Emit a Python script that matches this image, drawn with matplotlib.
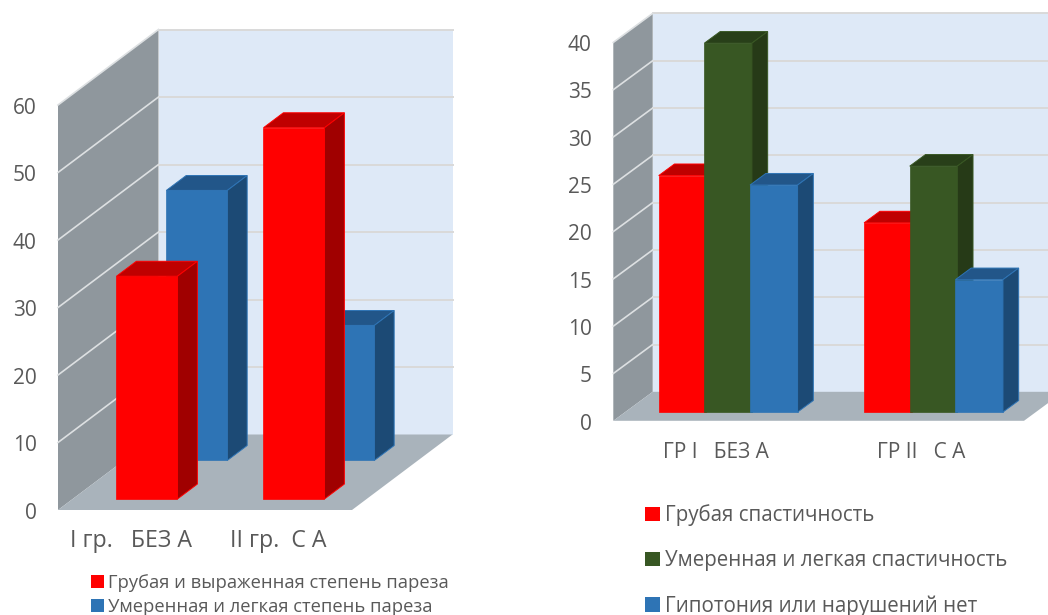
import matplotlib
matplotlib.use("Agg")
import matplotlib.pyplot as plt
from matplotlib.patches import Polygon, Patch
from matplotlib.transforms import ScaledTranslation

plt.rcParams['font.family'] = ['Open Sans', 'DejaVu Sans']

# Paresis severity by group
paresis_groups = ["I гр.   БЕЗ А", "II гр.  С А"]
paresis_names = ["Грубая и выраженная степень пареза", "Умеренная и легкая степень пареза"]
paresis_severe = [33, 55]
paresis_mild = [40, 20]
paresis_ticks = [0, 10, 20, 30, 40, 50, 60]

# Spasticity by group
spastic_groups = ["ГР I   БЕЗ А", "ГР II   С А"]
spastic_names = ["Грубая спастичность", "Умеренная и легкая спастичность", "Гипотония или нарушений нет"]
spastic_severe = [25, 20]
spastic_mild = [39, 26]
spastic_none = [24, 14]
spastic_ticks = [0, 5, 10, 15, 20, 25, 30, 35, 40]

W, H = 1048, 615
TEXT = "#595959"
WALL = "#8F979D"
BACK = "#DEE9F7"
FLOOR = "#A9B3BB"
GRID = "#D9D9D9"
SIDE_GRID = "#DDE0E2"
RED = ("#FF0000", "#BF0000", "#A00000")
BLUE = ("#2E74B5", "#225689", "#1C4A75")
GREEN = ("#385723", "#283F19", "#263A17")

fig = plt.figure(figsize=(W / 100, H / 100), dpi=100, facecolor="white")


def panel(x0, x1_front, y0, y_top, dx, dy, vmax, ticks, labels, y_size, x_size, x_pad):
    """Axes whose x/y are category position and value on the front plane."""
    px_x = (x1_front - x0) / 2.0
    px_v = (y0 - y_top) / vmax
    ax = fig.add_axes([x0 / W, 1 - y0 / H,
                       (x1_front - x0 + dx) / W,
                       (y0 - y_top + dy) / H])
    ax.set_xlim(0, 2 + dx / px_x)
    ax.set_ylim(0, vmax + dy / px_v)
    ax.patch.set_visible(False)
    for s in ax.spines.values():
        s.set_visible(False)
    ax.set_yticks(ticks)
    ax.set_xticks([0.5, 1.5], labels)
    ax.tick_params(length=0, labelcolor=TEXT)
    ax.tick_params(axis="y", labelsize=y_size, pad=15.5)
    ax.tick_params(axis="x", labelsize=x_size, pad=x_pad)
    nudge = ScaledTranslation(0, -0.8 / 100, fig.dpi_scale_trans)
    for lab in ax.get_yticklabels():
        lab.set_transform(lab.get_transform() + nudge)

    depth_x, depth_v = dx / px_x, dy / px_v

    def proj(x, v, d):
        return (x + d * depth_x, v + d * depth_v)

    def poly(points, color, z, edge=None, lw=0.0):
        ax.add_patch(Polygon([proj(*p) for p in points], closed=True, facecolor=color,
                             edgecolor=edge or color, linewidth=lw, zorder=z, clip_on=False))

    poly([(0, 0, 1), (2, 0, 1), (2, vmax, 1), (0, vmax, 1)], BACK, 1)
    poly([(0, 0, 0), (0, vmax, 0), (0, vmax, 1), (0, 0, 1)], WALL, 1)
    poly([(0, 0, 0), (2, 0, 0), (2, 0, 1), (0, 0, 1)], FLOOR, 2)
    for t in ticks:
        if t > 0:
            ax.plot(*zip(proj(0, t, 1), proj(2, t, 1)), color=GRID, lw=1.4, zorder=1.5, clip_on=False)
            ax.plot(*zip(proj(0, t, 0), proj(0, t, 1)), color=SIDE_GRID, lw=1.2, zorder=1.5, clip_on=False)

    def bar(cat, start, width, value, d0, d1, colors, z):
        front, top, side = colors
        xa = cat + start
        xb = xa + width
        poly([(xa, 0, d0), (xb, 0, d0), (xb, value, d0), (xa, value, d0)], front, z, front, 0.5)
        poly([(xa, value, d0), (xb, value, d0), (xb, value, d1), (xa, value, d1)], top, z, front, 0.7)
        poly([(xb, 0, d0), (xb, value, d0), (xb, value, d1), (xb, 0, d1)], side, z, front, 0.7)

    return ax, bar


# Left panel: the two series stand one behind the other
ax_l, bar_l = panel(58, 352, 510, 105, 100.5, 75.5, 60, paresis_ticks, paresis_groups, 15, 16.7, 14)
for i, v in enumerate(paresis_mild):
    bar_l(i, 0.144 * 2, 0.2075 * 2, v, 0.657, 0.854, BLUE, 3)
for i, v in enumerate(paresis_severe):
    bar_l(i, 0.149 * 2, 0.2075 * 2, v, 0.146, 0.344, RED, 4)

# Right panel: three clustered series
ax_r, bar_r = panel(613.3, 1024, 420.8, 42.4, 39.4, 29, 40, spastic_ticks, spastic_groups, 15, 15, 15)
for i in range(2):
    z = 3
    for k, (vals, cols) in enumerate(((spastic_severe, RED), (spastic_mild, GREEN), (spastic_none, BLUE))):
        bar_r(i, 0.0818 * 2 + k * 0.1112 * 2, 0.1157 * 2, vals[i], 0.3, 0.7, cols, z)
        z += 1


def legend(names, colors, left, first_y, spacing_px, size, box):
    handles = [Patch(facecolor=c, edgecolor="none") for c in colors]
    px_size = size * 100 / 72
    fig.legend(handles, names, loc="upper left",
               bbox_to_anchor=(left / W, 1 - (first_y - px_size * 0.62) / H),
               bbox_transform=fig.transFigure, frameon=False, fontsize=size,
               labelcolor=TEXT, borderpad=0, borderaxespad=0,
               handlelength=box / px_size, handleheight=box / px_size,
               handletextpad=5 / px_size,
               labelspacing=(spacing_px - px_size) / px_size)


legend(paresis_names, [RED[0], BLUE[0]], 90.5, 585, 24.5, 13.2, 13)
legend(spastic_names, [RED[0], GREEN[0], BLUE[0]], 645.3, 517, 44.7, 14.8, 14.5)

fig.savefig("out.png", dpi=100)
